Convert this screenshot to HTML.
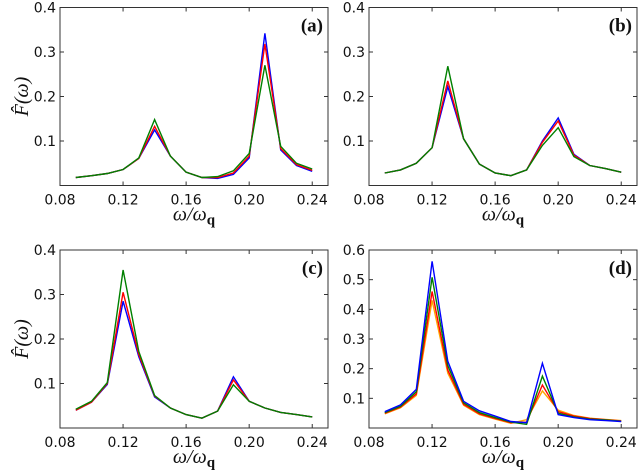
<!DOCTYPE html>
<html><head><meta charset="utf-8">
<style>
html,body{margin:0;padding:0;background:#fff;}
svg{display:block;font-family:"DejaVu Sans","Liberation Sans",sans-serif;}
.tick{font-size:14px;fill:#111;}
.lab{font-family:"Liberation Serif",serif;font-style:italic;font-size:20px;fill:#111;}
.plab{font-family:"Liberation Serif",serif;font-weight:bold;font-size:19px;fill:#111;}
</style></head>
<body>
<svg id="chart" width="640" height="476"></svg>
<script>
const xCats=[0.09,0.10,0.11,0.12,0.13,0.14,0.15,0.16,0.17,0.18,0.19,0.20,0.21,0.22,0.23,0.24];
const xTickVals=[0.08,0.12,0.16,0.20,0.24];
const xTickLabels=["0.08","0.12","0.16","0.20","0.24"];
const yTicks04=[0.1,0.2,0.3,0.4];
const yTicks06=[0.1,0.2,0.3,0.4,0.5,0.6];
const aBlue=[0.018,0.022,0.027,0.036,0.061,0.125,0.066,0.030,0.018,0.016,0.025,0.062,0.342,0.080,0.045,0.032];
const aRed=[0.018,0.022,0.027,0.036,0.061,0.133,0.066,0.030,0.018,0.018,0.028,0.066,0.318,0.083,0.047,0.034];
const aGreen=[0.018,0.022,0.027,0.036,0.062,0.148,0.066,0.030,0.018,0.020,0.033,0.072,0.270,0.088,0.050,0.037];
const bBlue=[0.028,0.035,0.050,0.085,0.222,0.105,0.048,0.028,0.022,0.035,0.100,0.152,0.070,0.045,0.038,0.030];
const bRed=[0.028,0.035,0.050,0.085,0.235,0.105,0.048,0.028,0.022,0.035,0.097,0.145,0.068,0.045,0.038,0.030];
const bGreen=[0.028,0.035,0.050,0.085,0.268,0.105,0.048,0.028,0.022,0.035,0.090,0.130,0.065,0.045,0.038,0.030];
const cBlue=[0.040,0.058,0.098,0.285,0.160,0.070,0.045,0.030,0.022,0.038,0.115,0.060,0.045,0.035,0.030,0.025];
const cRed=[0.040,0.058,0.100,0.305,0.165,0.072,0.045,0.030,0.022,0.038,0.108,0.060,0.045,0.035,0.030,0.025];
const cGreen=[0.042,0.060,0.102,0.355,0.172,0.073,0.045,0.030,0.022,0.038,0.097,0.060,0.045,0.035,0.030,0.025];
const dBlue=[0.055,0.078,0.130,0.562,0.225,0.090,0.058,0.040,0.022,0.018,0.218,0.045,0.035,0.028,0.025,0.022];
const dGreen=[0.052,0.073,0.122,0.508,0.210,0.085,0.052,0.035,0.020,0.012,0.175,0.050,0.037,0.030,0.027,0.023];
const dRed=[0.050,0.070,0.115,0.460,0.195,0.080,0.048,0.032,0.018,0.020,0.145,0.055,0.040,0.032,0.028,0.024];
const dOrange=[0.048,0.068,0.110,0.430,0.185,0.077,0.045,0.030,0.016,0.028,0.125,0.060,0.042,0.033,0.029,0.025];

const NS="http://www.w3.org/2000/svg";
const svg=document.getElementById('chart');
function mk(tag,attrs,parent){const e=document.createElementNS(NS,tag);for(const k in attrs)e.setAttribute(k,attrs[k]);(parent||svg).appendChild(e);return e;}

function panel(id,x0,y0,w,h,ymax,yTicks,series,letter,showY){
  const g=mk('g',{});
  
  
  const xs=v=>x0+(v-0.08)/(0.25-0.08)*w;
  const ys=v=>y0+h-v/ymax*h;
  xTickVals.forEach((v,i)=>{
    const X=xs(v);
    mk('line',{x1:X,x2:X,y1:y0+h,y2:y0+h-4,stroke:'#333','stroke-width':1},g);
    mk('line',{x1:X,x2:X,y1:y0,y2:y0+4,stroke:'#333','stroke-width':1},g);
    const t=mk('text',{x:X,y:y0+h+19,'text-anchor':'middle',class:'tick'},g);
    
    
    t.textContent=xTickLabels[i];
  });
  yTicks.forEach(v=>{
    const Y=ys(v);
    mk('line',{x1:x0,x2:x0+4,y1:Y,y2:Y,stroke:'#333','stroke-width':1},g);
    mk('line',{x1:x0+w,x2:x0+w-4,y1:Y,y2:Y,stroke:'#333','stroke-width':1},g);
    const t=mk('text',{x:x0-4,y:Y+5,'text-anchor':'end',class:'tick'},g);
    
    
    t.textContent=v.toFixed(1);
  });
  series.forEach(s=>{
    const p=mk('polyline',{points:s.d.map((v,i)=>xs(xCats[i]).toFixed(1)+','+ys(v).toFixed(1)).join(' '),fill:'none',stroke:s.c,'stroke-width':1.4},g);
    
    
  });
  const fr=mk('rect',{x:x0,y:y0,width:w,height:h,fill:'none',stroke:'#333','stroke-width':1},g);
  
  
  const L=mk('text',{x:x0+w-5,y:y0+24,'text-anchor':'end',class:'plab'},g);
  
  
  L.textContent='('+letter+')';
  const xl=mk('text',{x:x0+w/2,y:y0+h+35,'text-anchor':'middle',class:'lab'},g);
  
  
  xl.innerHTML='ω/ω<tspan dy="4" font-size="15" font-style="normal" font-weight="bold">q</tspan>';
  if(showY){
    const yl=mk('text',{x:0,y:0,'text-anchor':'middle',class:'lab',transform:'translate(28,'+(y0+h/2)+') rotate(-90)'},g);
    
    
    yl.textContent='F̂(ω)';
  }
}
panel('a',60,7.5,268,178,0.4,yTicks04,[{d:aBlue,c:'#0000ff',n:'blue'},{d:aRed,c:'#ff0000',n:'red'},{d:aGreen,c:'#008000',n:'green'}],'a',true);
panel('b',369,7.5,268,178,0.4,yTicks04,[{d:bBlue,c:'#0000ff',n:'blue'},{d:bRed,c:'#ff0000',n:'red'},{d:bGreen,c:'#008000',n:'green'}],'b',false);
panel('c',60,250,268,178,0.4,yTicks04,[{d:cBlue,c:'#0000ff',n:'blue'},{d:cRed,c:'#ff0000',n:'red'},{d:cGreen,c:'#008000',n:'green'}],'c',true);
panel('d',369,250,268,178,0.6,yTicks06,[{d:dOrange,c:'#ffa500',n:'orange'},{d:dRed,c:'#ff0000',n:'red'},{d:dGreen,c:'#008000',n:'green'},{d:dBlue,c:'#0000ff',n:'blue'}],'d',false);
</script>
</body></html>
